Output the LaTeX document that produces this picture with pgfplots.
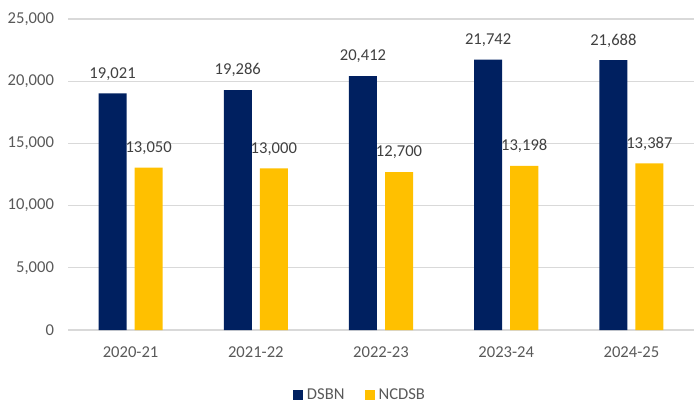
\documentclass[border=0pt]{standalone}
\usepackage{fontspec}
\setmainfont{Carlito}
\usepackage{pgfplots}
\pgfplotsset{compat=1.18}

\definecolor{dsbn}{HTML}{002060}
\definecolor{ncdsb}{HTML}{FFC000}
\definecolor{gridc}{HTML}{D9D9D9}
\definecolor{txt}{HTML}{595959}
\definecolor{lbl}{HTML}{404040}

\begin{document}
\begin{tikzpicture}
\useasboundingbox (0,0) rectangle (347pt,203.5pt);
\begin{axis}[
    at={(34pt,38.5pt)}, anchor=south west,
    scale only axis,
    width=313pt, height=155.5pt,
    ybar,
    xmin=-0.5, xmax=4.5,
    ymin=0, ymax=25000,
    ytick={0,5000,10000,15000,20000,25000},
    xtick=data,
    xticklabels={2020-21,2021-22,2022-23,2023-24,2024-25},
    major tick length=0pt,
    ymajorgrids=true,
    grid style={gridc, line width=0.6pt},
    axis x line*=bottom,
    axis y line*=left,
    x axis line style={gridc, line width=0.7pt, -},
    y axis line style={draw=none},
    font=\fontsize{8.3}{10}\selectfont,
    tick label style={txt},
    /pgf/number format/assume math mode=true,
    /pgf/number format/1000 sep={,},
    scaled y ticks=false,
    yticklabel style={xshift=-3.5pt},
    xticklabel style={yshift=-5pt},
    bar width=0.224,
    nodes near coords,
    every node near coord/.append style={lbl, yshift=3pt, /pgf/number format/1000 sep={,}},
    legend style={at={(0.468,-0.21)}, anchor=center, draw=none, fill=none,
        legend columns=2, text=txt,
        /tikz/every even column/.append style={column sep=8pt}},
    legend image code/.code={\fill[#1] (0pt,-2.5pt) rectangle (5pt,2.5pt);},
]
\addplot[fill=dsbn, draw=none, bar shift=-0.144] coordinates {
    (0,19021) (1,19286) (2,20412) (3,21742) (4,21688)
};
\addplot[fill=ncdsb, draw=none, bar shift=0.144] coordinates {
    (0,13050) (1,13000) (2,12700) (3,13198) (4,13387)
};
\legend{DSBN, NCDSB}
\end{axis}
\end{tikzpicture}
\end{document}
